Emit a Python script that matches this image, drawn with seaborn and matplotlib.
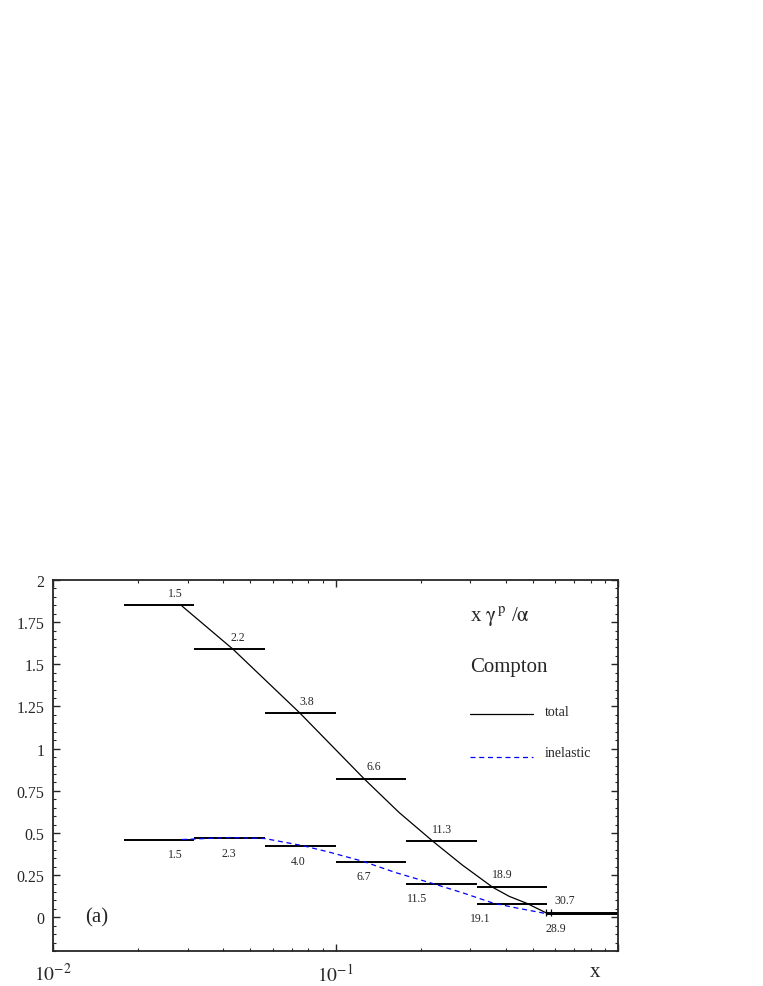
import numpy as np
import matplotlib
matplotlib.use('Agg')
import matplotlib.pyplot as plt
import seaborn as sns

# bins in x (log spaced, quarter decades)
bin_edges = [0.0178, 0.0316, 0.0562, 0.1, 0.178, 0.316, 0.562, 1.0]
total_vals = [1.85, 1.59, 1.21, 0.82, 0.45, 0.18, 0.026]
inel_vals = [0.46, 0.47, 0.42, 0.33, 0.20, 0.08, 0.022]

total_labels = ['1.5', '2.2', '3.8', '6.6', '11.3', '18.9', '30.7']
total_label_x = [0.027, 0.045, 0.079, 0.137, 0.239, 0.389, 0.65]
inel_labels = ['1.5', '2.3', '4.0', '6.7', '11.5', '19.1', '28.9']
inel_label_x = [0.027, 0.042, 0.074, 0.126, 0.195, 0.325, 0.60]

# curves
total_curve_x = [0.0286, 0.0434, 0.0746, 0.127, 0.168, 0.221, 0.281, 0.360, 0.412, 0.475, 0.557]
total_curve_y = [1.846, 1.589, 1.213, 0.817, 0.621, 0.451, 0.310, 0.178, 0.124, 0.083, 0.026]
inel_curve_x = [0.0286, 0.0422, 0.0561, 0.0764, 0.0952, 0.1249, 0.164, 0.221, 0.282,
                0.360, 0.435, 0.540, 0.557]
inel_curve_y = [0.461, 0.473, 0.467, 0.425, 0.386, 0.332, 0.264, 0.200, 0.145,
                0.085, 0.056, 0.026, 0.022]

# small marks at the end of the curves
mark_x = [0.555, 0.578]
mark_lo = [0.006, 0.006]
mark_hi = [0.052, 0.052]

sns.set_theme(style='ticks')
plt.rcParams['font.family'] = ['Liberation Serif', 'DejaVu Serif']
plt.rcParams['mathtext.fontset'] = 'stix'

fig = plt.figure(figsize=(7.63, 9.87), dpi=100)
ax = fig.add_axes([53 / 763, 35 / 987, 565 / 763, 371 / 987])

# histogram-like horizontal bars
ax.hlines(total_vals, bin_edges[:-1], bin_edges[1:], colors='black', lw=1.4)
ax.hlines(inel_vals, bin_edges[:-1], bin_edges[1:], colors='black', lw=1.4)

sns.lineplot(x=total_curve_x, y=total_curve_y, ax=ax, color='black', lw=0.9,
             sort=False, estimator=None)
sns.lineplot(x=inel_curve_x, y=inel_curve_y, ax=ax, color='blue', lw=0.9,
             sort=False, estimator=None, linestyle=(0, (4, 3)))
ax.vlines(mark_x, mark_lo, mark_hi, colors='black', lw=0.9)

for xl, yv, t in zip(total_label_x, total_vals, total_labels):
    ax.annotate(t, (xl, yv), xytext=(0, 9), textcoords='offset points',
                ha='center', va='center', fontsize=8.5)
for xl, yv, t in zip(inel_label_x, inel_vals, inel_labels):
    ax.annotate(t, (xl, yv), xytext=(0, -10.5), textcoords='offset points',
                ha='center', va='center', fontsize=8.5)

ax.set_xscale('log')
ax.set_xlim(0.01, 1)
ax.set_ylim(-0.2, 2)
ax.set_xticks([0.01, 0.1, 1])
ax.set_xticklabels([r'$10^{-2}$', r'$10^{-1}$', ''], fontsize=14)
ax.set_yticks(np.arange(0, 2.01, 0.25))
ax.set_yticklabels(['0', '0.25', '0.5', '0.75', '1', '1.25', '1.5', '1.75', '2'], fontsize=11.5)
ax.set_yticks(np.arange(-0.2, 2.001, 0.05), minor=True)
ax.xaxis.set_minor_formatter(plt.NullFormatter())
ax.tick_params(which='both', direction='in', top=True, right=True)
ax.tick_params(which='major', length=5, width=1)
ax.tick_params(which='minor', length=2.5, width=0.8)
ax.tick_params(axis='x', which='major', pad=8)
ax.tick_params(axis='y', which='major', pad=6)
for s in ax.spines.values():
    s.set_linewidth(1.3)
ax.set_xlabel('')
ax.set_ylabel('')

# labels inside the frame
ax.text(0.738, 0.903, r'x $\mathrm{\gamma}^{\,\mathrm{p}}$ /$\mathrm{\alpha}$',
        transform=ax.transAxes, fontsize=15, va='center')
ax.text(0.738, 0.766, 'Compton', transform=ax.transAxes, fontsize=15, va='center')
ax.plot([0.738, 0.850], [0.639, 0.639], transform=ax.transAxes, color='black', lw=0.9)
ax.text(0.871, 0.646, 'total', transform=ax.transAxes, fontsize=10, va='center')
ax.plot([0.738, 0.850], [0.524, 0.524], transform=ax.transAxes, color='blue', lw=0.9,
        linestyle=(0, (4, 3)))
ax.text(0.871, 0.535, 'inelastic', transform=ax.transAxes, fontsize=10, va='center')
ax.text(0.077, 0.092, '(a)', transform=ax.transAxes, fontsize=15, ha='center', va='center')
ax.text(0.959, -0.054, 'x', transform=ax.transAxes, fontsize=15, ha='center', va='center')

fig.savefig('out.png', dpi=100)
